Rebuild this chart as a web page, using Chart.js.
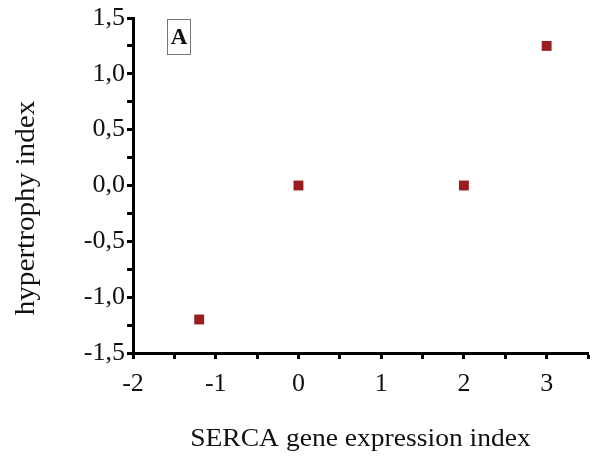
<!DOCTYPE html>
<html>
<head>
<meta charset="utf-8">
<script src="https://cdn.jsdelivr.net/npm/chart.js@4"></script>
<style>
  html, body { margin: 0; padding: 0; background: #fff; }
  #wrap { width: 595px; height: 458px; position: relative; }
</style>
</head>
<body>
<div id="wrap"><canvas id="scatterChart"></canvas></div>
<script>
const sercaIndex = [-1.2, 0, 2, 3];
const hypertrophyIndex = [-1.2, 0, 0, 1.25];
const xTitle = 'SERCA gene expression index';
const yTitle = 'hypertrophy index';
const panelLabel = 'A';

const SERIF = '"Liberation Serif", "DejaVu Serif", serif';
const comma = v => v.toFixed(1).replace('.', ',');

// axis titles and the boxed panel letter
const extraText = {
  id: 'extraText',
  afterDraw(chart) {
    const ctx = chart.ctx;
    const a = chart.chartArea;
    ctx.save();
    ctx.fillStyle = '#111';
    ctx.font = '26px ' + SERIF;
    ctx.textAlign = 'center';
    ctx.textBaseline = 'middle';
    ctx.translate((a.left + a.right) / 2, 439);
    ctx.scale(1.06, 1);
    ctx.fillText(xTitle, 0, 0);
    ctx.restore();

    ctx.save();
    ctx.fillStyle = '#111';
    ctx.font = '27px ' + SERIF;
    ctx.textAlign = 'center';
    ctx.textBaseline = 'middle';
    ctx.translate(27, 208);
    ctx.rotate(-Math.PI / 2);
    ctx.scale(1.08, 1);
    ctx.fillText(yTitle, 0, 0);
    ctx.restore();

    ctx.save();
    ctx.strokeStyle = '#777';
    ctx.lineWidth = 1;
    ctx.strokeRect(167.5, 19.5, 23, 35);
    ctx.fillStyle = '#111';
    ctx.font = 'bold 23px ' + SERIF;
    ctx.textAlign = 'center';
    ctx.textBaseline = 'middle';
    ctx.fillText(panelLabel, 179, 38);
    ctx.restore();
  }
};

const CHART = document.getElementById('scatterChart');

let scatterChart = new Chart(CHART, {
  type: 'scatter',
  data: {
    datasets: [{
      data: sercaIndex.map((x, i) => ({ x: x, y: hypertrophyIndex[i] })),
      pointStyle: 'rect',
      pointRadius: 7,
      pointHoverRadius: 7,
      backgroundColor: '#9b1d20',
      borderColor: '#9b1d20',
      borderWidth: 0
    }]
  },
  options: {
    responsive: true,
    maintainAspectRatio: false,
    animation: false,
    layout: { padding: { top: 18, right: 5, left: 0, bottom: 0 } },
    plugins: { legend: { display: false }, tooltip: { enabled: false } },
    scales: {
      x: {
        type: 'linear',
        min: -2,
        max: 3.5,
        afterFit: s => { s.height = 105; s.paddingLeft = 0; s.paddingRight = 0; },
        border: { display: true, color: '#000', width: 3 },
        grid: { drawOnChartArea: false, drawTicks: true, tickLength: 6, tickColor: '#000', tickWidth: 3 },
        ticks: {
          stepSize: 0.5,
          autoSkip: false,
          maxRotation: 0,
          padding: 10,
          color: '#111',
          font: { family: SERIF, size: 26 },
          callback: v => Number.isInteger(v) && v < 3.5 ? String(v) : ''
        }
      },
      y: {
        type: 'linear',
        min: -1.5,
        max: 1.5,
        afterFit: s => { s.width = 133; s.paddingTop = 0; s.paddingBottom = 0; },
        border: { display: true, color: '#000', width: 3 },
        grid: { drawOnChartArea: false, drawTicks: true, tickLength: 6, tickColor: '#000', tickWidth: 3 },
        ticks: {
          stepSize: 0.25,
          autoSkip: false,
          padding: 2,
          color: '#111',
          font: { family: SERIF, size: 26 },
          callback: v => Math.abs(v * 2 - Math.round(v * 2)) < 1e-9 ? comma(v) : ''
        }
      }
    }
  },
  plugins: [extraText]
});
</script>
</body>
</html>
